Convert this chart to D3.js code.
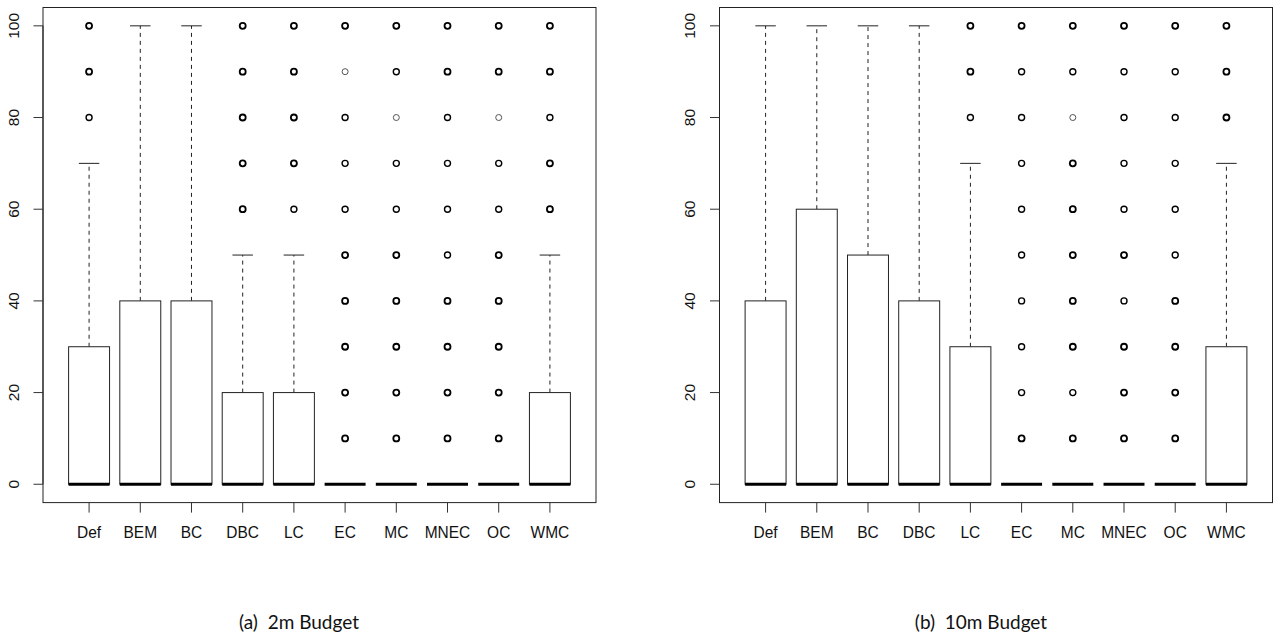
<!DOCTYPE html>
<html><head><meta charset="utf-8">
<script src="https://cdn.jsdelivr.net/npm/d3@7/dist/d3.min.js"></script>
<style>
html,body{margin:0;padding:0;background:#fff;}
svg{display:block;}
</style>
</head><body>
<svg id="chart" width="1274" height="642"></svg>
<script>
const categories = ["Def","BEM","BC","DBC","LC","EC","MC","MNEC","OC","WMC"];
const yTicks = [0,20,40,60,80,100];
const captions = ["(a)  2m Budget", "(b)  10m Budget"];

// Panel (a) 2m budget
const q1A      = [0,0,0,0,0,0,0,0,0,0];
const medianA  = [0,0,0,0,0,0,0,0,0,0];
const q3A      = [30,40,40,20,20,0,0,0,0,20];
const whiskerA = [70,100,100,50,50,0,0,0,0,50];
const outliersA = [
  [80,90,100],[],[],
  [60,70,80,90,100],[60,70,80,90,100],
  [10,20,30,40,50,60,70,80,90,100],[10,20,30,40,50,60,70,80,90,100],
  [10,20,30,40,50,60,70,80,90,100],[10,20,30,40,50,60,70,80,90,100],
  [60,70,80,90,100]
];
const outlierCountsA = [
  [2,3,3],[],[],
  [3,3,3,3,3],[2,3,3,3,3],
  [3,3,3,3,3,2,2,2,1,3],[3,3,3,3,3,2,2,1,2,3],
  [3,3,3,3,2,2,2,2,3,3],[3,3,3,3,3,2,2,1,3,3],
  [3,3,2,3,3]
];

// Panel (b) 10m budget
const q1B      = [0,0,0,0,0,0,0,0,0,0];
const medianB  = [0,0,0,0,0,0,0,0,0,0];
const q3B      = [40,60,50,40,30,0,0,0,0,30];
const whiskerB = [100,100,100,100,70,0,0,0,0,70];
const outliersB = [
  [],[],[],[],
  [80,90,100],
  [10,20,30,40,50,60,70,80,90,100],[10,20,30,40,50,60,70,80,90,100],
  [10,20,30,40,50,60,70,80,90,100],[10,20,30,40,50,60,70,80,90,100],
  [80,90,100]
];
const outlierCountsB = [
  [],[],[],[],
  [2,3,3],
  [3,2,2,2,2,2,2,2,2,3],[3,2,3,3,3,3,3,1,2,3],
  [3,3,3,2,3,2,2,2,2,3],[3,3,3,3,2,2,2,2,2,3],
  [3,3,3]
];

const svg = d3.select("#chart");
const FONT = "'Liberation Sans', Arial, sans-serif";

function drawPanel(p) {
  const g = svg.append("g");
  const x = d3.scaleLinear().domain([0.1, 10.9]).range([p.left, p.right]);
  const y = d3.scaleLinear().domain([-4, 104]).range([p.bottom, p.top]);
  const bw = (x(1) - x(0)) * 0.8;

  // frame
  g.append("rect").attr("x", p.left).attr("y", p.top)
    .attr("width", p.right - p.left).attr("height", p.bottom - p.top)
    .attr("fill", "none").attr("stroke", "#222").attr("stroke-width", 1);

  // y axis
  const yAxis = g.append("g");
  yAxis.append("line").attr("x1", p.left).attr("x2", p.left)
    .attr("y1", y(0)).attr("y2", y(100)).attr("stroke", "#222");
  yTicks.forEach(t => {
    yAxis.append("line").attr("x1", p.left - 9.5).attr("x2", p.left)
      .attr("y1", y(t)).attr("y2", y(t)).attr("stroke", "#333");
    yAxis.append("text")
      .attr("transform", `translate(${p.left - 24.5},${y(t)}) scale(0.9,1) rotate(-90)`)
      .attr("text-anchor", "middle")
      .attr("font-family", FONT).attr("font-size", 15.5)
      .attr("fill", "#111")
      .text(t);
  });

  // x axis ticks & labels
  categories.forEach((c, i) => {
    const cx = x(i + 1);
    g.append("line").attr("x1", cx).attr("x2", cx)
      .attr("y1", p.bottom).attr("y2", p.bottom + 10)
      .attr("stroke", "#333");
    g.append("text")
      .attr("transform", `translate(${cx},${p.bottom + 35.5}) scale(1,1.12)`)
      .attr("text-anchor", "middle")
      .attr("font-family", FONT).attr("font-size", 15.5)
      .attr("fill", "#111")
      .text(c);
  });

  // boxes
  categories.forEach((c, i) => {
    const cx = x(i + 1);
    const q1 = p.q1[i], q3 = p.q3[i], med = p.median[i], wh = p.whisker[i];
    if (wh > q3) {
      g.append("line").attr("x1", cx).attr("x2", cx)
        .attr("y1", y(q3)).attr("y2", y(wh))
        .attr("stroke", "#222").attr("stroke-dasharray", "4,4");
      g.append("line").attr("x1", cx - bw / 4).attr("x2", cx + bw / 4)
        .attr("y1", y(wh)).attr("y2", y(wh)).attr("stroke", "#222");
    }
    if (q3 > q1) {
      g.append("rect").attr("x", cx - bw / 2).attr("y", y(q3))
        .attr("width", bw).attr("height", y(q1) - y(q3))
        .attr("fill", "#fff").attr("stroke", "#222").attr("stroke-width", 1);
    }
    g.append("line").attr("x1", cx - bw / 2).attr("x2", cx + bw / 2)
      .attr("y1", y(med)).attr("y2", y(med))
      .attr("stroke", "#000").attr("stroke-width", 3);
    p.outliers[i].forEach((v, j) => {
      const n = p.counts[i][j];
      g.append("circle").attr("cx", cx).attr("cy", y(v)).attr("r", 3)
        .attr("fill", "none")
        .attr("stroke", n === 1 ? "#555" : "#000")
        .attr("stroke-width", n === 1 ? 1 : (n === 2 ? 1.4 : 1.8));
    });
  });

  svg.append("text")
    .attr("x", p.capX).attr("y", 629)
    .attr("text-anchor", "middle")
    .attr("font-family", "Lato, 'Open Sans', sans-serif")
    .attr("font-size", 19)
    .attr("fill", "#111")
    .attr("xml:space", "preserve")
    .style("white-space", "pre")
    .text(p.caption);
}

drawPanel({left: 43, right: 596, top: 7.5, bottom: 502.6,
  q1: q1A, q3: q3A, median: medianA, whisker: whiskerA,
  outliers: outliersA, counts: outlierCountsA, caption: captions[0], capX: 299});
drawPanel({left: 719.5, right: 1272.5, top: 7.5, bottom: 502.6,
  q1: q1B, q3: q3B, median: medianB, whisker: whiskerB,
  outliers: outliersB, counts: outlierCountsB, caption: captions[1], capX: 981});
</script>
</body></html>
